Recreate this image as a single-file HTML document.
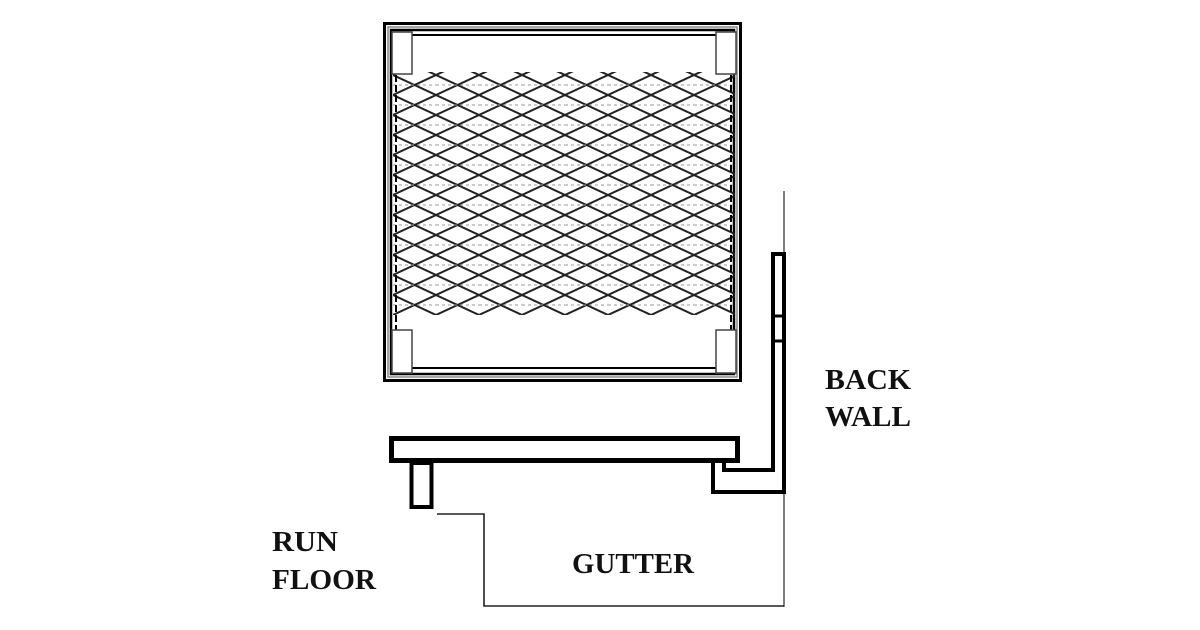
<!DOCTYPE html>
<html><head><meta charset="utf-8"><style>
html,body{margin:0;padding:0;background:#fff;}
svg{display:block;}
text{font-family:"Liberation Serif",serif;fill:#111;font-weight:bold;}
</style></head><body>
<svg width="1200" height="630" viewBox="0 0 1200 630" xmlns="http://www.w3.org/2000/svg">
<defs>
<pattern id="mesh" x="393" y="75" width="43" height="20" patternUnits="userSpaceOnUse">
<path d="M0 0 L21.5 10 L43 0 M0 20 L21.5 10 L43 20" stroke="#222" stroke-width="2" fill="none"/>
<line x1="0" y1="10" x2="43" y2="10" stroke="#999" stroke-width="1" stroke-dasharray="3,3"/>
</pattern>
<clipPath id="mc"><rect x="393" y="72" width="342" height="243"/></clipPath>
</defs>
<!-- frame -->
<rect x="384.5" y="23.5" width="356" height="357" fill="none" stroke="#000" stroke-width="3"/>
<rect x="388" y="27" width="349" height="350" fill="none" stroke="#888" stroke-width="1.5"/>
<rect x="391" y="30" width="343" height="344" fill="none" stroke="#000" stroke-width="2.5"/>
<line x1="412" y1="35" x2="716" y2="35" stroke="#000" stroke-width="2"/>
<line x1="412" y1="368" x2="716" y2="368" stroke="#000" stroke-width="2"/>
<!-- mesh -->
<g clip-path="url(#mc)">
<rect x="393" y="65" width="342" height="260" fill="url(#mesh)"/>
</g>
<line x1="396" y1="75" x2="396" y2="330" stroke="#000" stroke-width="2" stroke-dasharray="7,3"/>
<line x1="731" y1="75" x2="731" y2="330" stroke="#000" stroke-width="2" stroke-dasharray="7,3"/>
<!-- corner blocks -->
<rect x="392" y="32" width="20" height="42" fill="#fff" stroke="#444" stroke-width="1.5"/>
<rect x="716" y="32" width="20" height="42" fill="#fff" stroke="#444" stroke-width="1.5"/>
<rect x="392" y="330" width="20" height="43" fill="#fff" stroke="#444" stroke-width="1.5"/>
<rect x="716" y="330" width="20" height="43" fill="#fff" stroke="#444" stroke-width="1.5"/>
<!-- back wall thin line -->
<line x1="784" y1="191" x2="784" y2="607" stroke="#555" stroke-width="1.5"/>
<!-- back wall structure -->
<path d="M773 252 L773 470 L724 470 L724 460" fill="none" stroke="#000" stroke-width="4"/>
<path d="M784 252 L784 492 L713 492 L713 460" fill="none" stroke="#000" stroke-width="4"/>
<line x1="771" y1="254" x2="786" y2="254" stroke="#000" stroke-width="4"/>
<line x1="773" y1="316" x2="784" y2="316" stroke="#000" stroke-width="3"/>
<line x1="773" y1="341" x2="784" y2="341" stroke="#000" stroke-width="3"/>
<!-- platform -->
<rect x="391.5" y="438.5" width="346" height="22" fill="#fff" stroke="#000" stroke-width="5"/>
<rect x="411.5" y="463" width="20" height="44" fill="#fff" stroke="#000" stroke-width="4"/>
<!-- gutter -->
<path d="M437 514 L484 514 L484 606 L784 606" fill="none" stroke="#222" stroke-width="1.6"/>
<!-- labels -->
<text x="825" y="389" font-size="28" textLength="86" lengthAdjust="spacingAndGlyphs">BACK</text>
<text x="825" y="426" font-size="28" textLength="86" lengthAdjust="spacingAndGlyphs">WALL</text>
<text x="272" y="551" font-size="28" textLength="66" lengthAdjust="spacingAndGlyphs">RUN</text>
<text x="272" y="589" font-size="28" textLength="104" lengthAdjust="spacingAndGlyphs">FLOOR</text>
<text x="572" y="573" font-size="28" textLength="122" lengthAdjust="spacingAndGlyphs">GUTTER</text>
</svg>
</body></html>
